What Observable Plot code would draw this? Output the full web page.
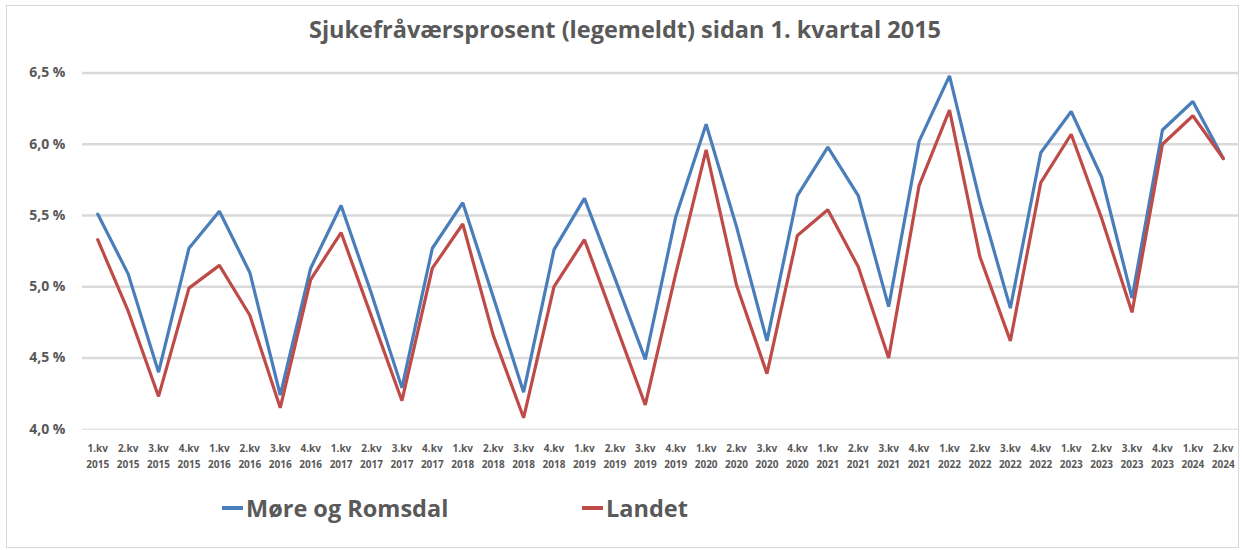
<!DOCTYPE html>
<html>
<head>
<meta charset="utf-8">
<script src="https://cdn.jsdelivr.net/npm/d3@7"></script>
<script src="https://cdn.jsdelivr.net/npm/@observablehq/plot@0.6"></script>
<style>
  html, body { margin: 0; padding: 0; background: #fff; }
  #wrap { position: relative; width: 1242px; height: 550px; overflow: hidden; font-family: "Open Sans", sans-serif; }
  #frame { position: absolute; left: 6px; top: 5px; width: 1233px; height: 543px; border: 1px solid #d9d9d9; box-sizing: border-box; }
  #title { position: absolute; left: 0; width: 1250px; top: 13px; text-align: center; font-weight: bold; font-size: 23.5px; line-height: 32px; color: #595959; }
  #chart { position: absolute; left: 0; top: 50px; }
  #legend { position: absolute; top: 492px; left: 0; width: 1242px; height: 34px; }
  .leg { position: absolute; display: flex; align-items: center; font-weight: bold; font-size: 23.5px; color: #595959; }
  .sw { width: 21px; height: 3.5px; margin-right: 3px; }
</style>
</head>
<body>
<div id="wrap">
  <div id="frame"></div>
  <div id="title">Sjukefråværsprosent (legemeldt) sidan 1. kvartal 2015</div>
  <div id="chart"></div>
  <div id="legend"></div>
</div>
<script>
const quarters = [
  "1.kv\n2015","2.kv\n2015","3.kv\n2015","4.kv\n2015",
  "1.kv\n2016","2.kv\n2016","3.kv\n2016","4.kv\n2016",
  "1.kv\n2017","2.kv\n2017","3.kv\n2017","4.kv\n2017",
  "1.kv\n2018","2.kv\n2018","3.kv\n2018","4.kv\n2018",
  "1.kv\n2019","2.kv\n2019","3.kv\n2019","4.kv\n2019",
  "1.kv\n2020","2.kv\n2020","3.kv\n2020","4.kv\n2020",
  "1.kv\n2021","2.kv\n2021","3.kv\n2021","4.kv\n2021",
  "1.kv\n2022","2.kv\n2022","3.kv\n2022","4.kv\n2022",
  "1.kv\n2023","2.kv\n2023","3.kv\n2023","4.kv\n2023",
  "1.kv\n2024","2.kv\n2024"
];
const seriesNames = ["Møre og Romsdal", "Landet"];
const seriesColors = ["#4a7ebb", "#be4b48"];
const moreOgRomsdal = [5.51, 5.09, 4.40, 5.27, 5.53, 5.10, 4.24, 5.13, 5.57, 4.95, 4.29, 5.27,
  5.59, 4.93, 4.26, 5.26, 5.62, 5.06, 4.49, 5.49, 6.14, 5.42, 4.62, 5.64,
  5.98, 5.64, 4.86, 6.02, 6.48, 5.60, 4.85, 5.94, 6.23, 5.77, 4.92, 6.10, 6.30, 5.90];
const landet = [5.33, 4.83, 4.23, 4.99, 5.15, 4.80, 4.15, 5.05, 5.38, 4.79, 4.20, 5.13,
  5.44, 4.66, 4.08, 5.00, 5.33, 4.75, 4.17, 5.09, 5.96, 5.01, 4.39, 5.36,
  5.54, 5.14, 4.50, 5.71, 6.24, 5.21, 4.62, 5.73, 6.07, 5.48, 4.82, 6.00, 6.20, 5.90];
const yTicks = [4.0, 4.5, 5.0, 5.5, 6.0, 6.5];

const rows = [];
[moreOgRomsdal, landet].forEach((vals, si) => {
  vals.forEach((v, i) => rows.push({series: seriesNames[si], quarter: quarters[i], value: v}));
});

const fmt = d => d.toFixed(1).replace(".", ",") + " %";

const chart = Plot.plot({
  width: 1242,
  height: 420,
  marginLeft: 82,
  marginRight: 4,
  marginTop: 22.5,
  marginBottom: 41.3,
  style: {fontFamily: "'Open Sans', sans-serif", color: "#595959", background: "transparent"},
  x: {type: "point", domain: quarters, padding: 0.5, round: false},
  y: {domain: [4.0, 6.5]},
  color: {domain: seriesNames, range: seriesColors},
  marks: [
    Plot.gridY(yTicks.filter(d => d > 4), {stroke: "#d9d9d9", strokeOpacity: 1, strokeWidth: 2.5}),
    Plot.ruleY([4.0], {stroke: "#e6e6e6", strokeWidth: 1.5}),
    Plot.axisY(yTicks, {tickSize: 0, tickPadding: 17, tickFormat: fmt, fontSize: 14, fontWeight: "bold", fill: "#595959", label: null}),
    Plot.axisX({tickSize: 0, tickPadding: 11, fontSize: 10, fontWeight: "bold", fill: "#595959", lineHeight: 1.6, label: null}),
    Plot.lineY(rows, {x: "quarter", y: "value", stroke: "series", z: "series", strokeWidth: 3.2, strokeLinejoin: "miter"})
  ]
});
document.getElementById("chart").appendChild(chart);

const legend = document.getElementById("legend");
const legPos = [222, 582];
seriesNames.forEach((name, i) => {
  const item = document.createElement("div");
  item.className = "leg";
  item.style.left = legPos[i] + "px";
  item.style.top = "0px";
  const sw = document.createElement("span");
  sw.className = "sw";
  sw.style.background = seriesColors[i];
  const tx = document.createElement("span");
  tx.textContent = name;
  item.appendChild(sw);
  item.appendChild(tx);
  legend.appendChild(item);
});
</script>
</body>
</html>
